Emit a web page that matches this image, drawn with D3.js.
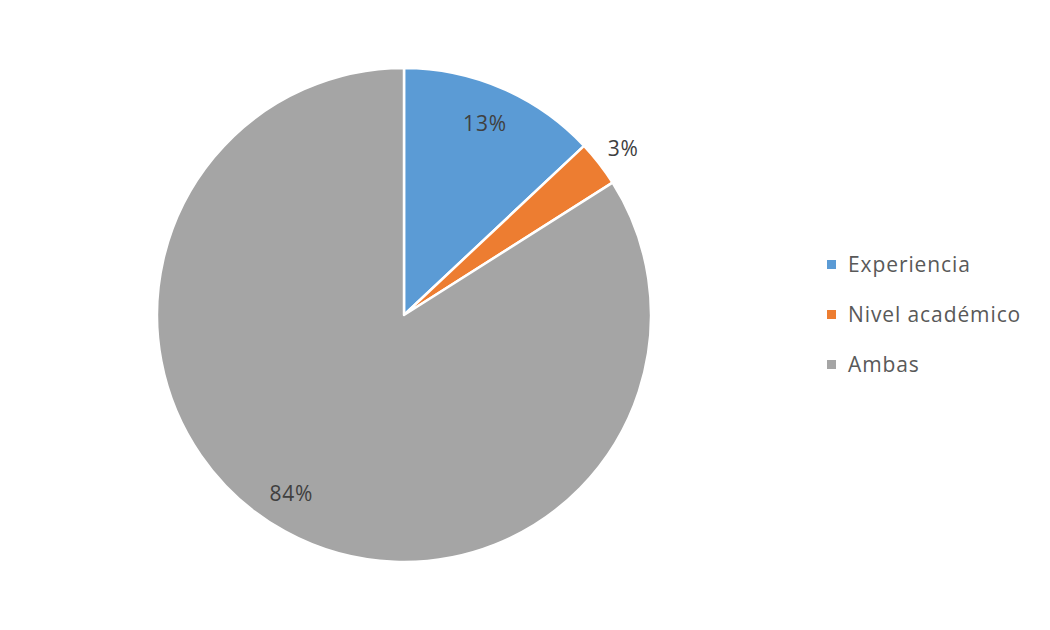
<!DOCTYPE html>
<html><head><meta charset="utf-8">
<script src="https://cdn.jsdelivr.net/npm/d3@7"></script>
<style>body{margin:0;background:#fff;}svg{display:block;}</style>
</head><body>
<svg id="c" width="1050" height="630"></svg>
<script>
const categories = ["Experiencia", "Nivel académico", "Ambas"];
const values = [13, 3, 84];
const labels = ["13%", "3%", "84%"];
const colors = ["#5b9bd5", "#ed7d31", "#a5a5a5"];

const svg = d3.select("#c");
const cx = 404, cy = 315, R = 247;
const g = svg.append("g").attr("transform", `translate(${cx},${cy})`);
const pie = d3.pie().sort(null).value(d => d)(values);
const arc = d3.arc().innerRadius(0).outerRadius(R);
g.selectAll("path").data(pie).join("path")
  .attr("d", arc).attr("fill", (d,i) => colors[i])
  .attr("stroke", "#fff").attr("stroke-width", 2.5).attr("stroke-linejoin", "round");

const font = "'Open Sans', 'Noto Sans', sans-serif";
const inArc = d3.arc().innerRadius(209).outerRadius(209);
const outArc = d3.arc().innerRadius(275).outerRadius(275);
const nudge = [[-2,0],[2,2],[-12,-5]];
g.selectAll("text.lbl").data(pie).join("text").attr("class","lbl")
  .attr("transform", (d,i) => {
    const p = (i===1 ? outArc : inArc).centroid(d);
    return `translate(${p[0]+nudge[i][0]},${p[1]+nudge[i][1]})`;
  })
  .attr("text-anchor","middle").attr("dy","0.35em")
  .attr("font-family",font).attr("font-size",21).attr("letter-spacing",0.8)
  .attr("fill","#404040").text((d,i) => labels[i]);

const leg = svg.append("g").attr("transform","translate(827,265)");
const items = leg.selectAll("g").data(categories).join("g")
  .attr("transform",(d,i)=>`translate(0,${i*50})`);
items.append("rect").attr("x",0).attr("y",-5).attr("width",9).attr("height",9)
  .attr("fill",(d,i)=>colors[i]);
items.append("text").attr("x",21).attr("dy","0.35em")
  .attr("font-family",font).attr("font-size",21).attr("letter-spacing",0.9)
  .attr("fill","#595959").text(d=>d);
</script>
</body></html>
